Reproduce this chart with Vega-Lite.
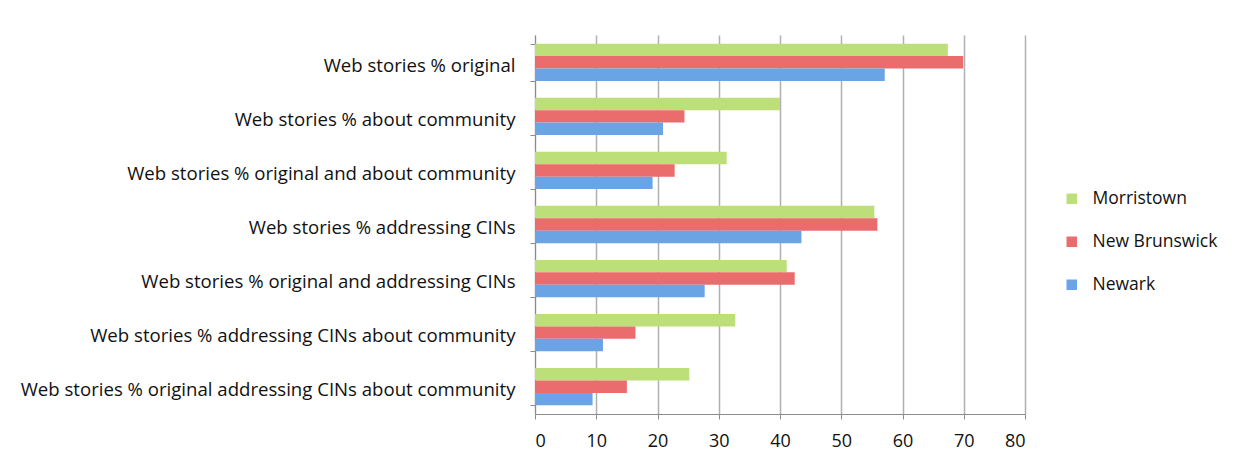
{
  "$schema": "https://vega.github.io/schema/vega-lite/v6.json",
  "width": 490,
  "height": 379,
  "autosize": {"type": "none"},
  "padding": {"left": 535, "top": 35, "right": 228, "bottom": 52},
  "background": "white",
  "data": {
    "values": [
      {"measure": "Web stories % original", "city": "Morristown", "value": 67.4},
      {"measure": "Web stories % original", "city": "New Brunswick", "value": 69.9},
      {"measure": "Web stories % original", "city": "Newark", "value": 57.1},
      {"measure": "Web stories % about community ", "city": "Morristown", "value": 40.0},
      {"measure": "Web stories % about community ", "city": "New Brunswick", "value": 24.4},
      {"measure": "Web stories % about community ", "city": "Newark", "value": 20.9},
      {"measure": "Web stories % original and about community", "city": "Morristown", "value": 31.3},
      {"measure": "Web stories % original and about community", "city": "New Brunswick", "value": 22.8},
      {"measure": "Web stories % original and about community", "city": "Newark", "value": 19.2},
      {"measure": "Web stories % addressing CINs", "city": "Morristown", "value": 55.4},
      {"measure": "Web stories % addressing CINs", "city": "New Brunswick", "value": 55.9},
      {"measure": "Web stories % addressing CINs", "city": "Newark", "value": 43.5},
      {"measure": "Web stories % original and addressing CINs", "city": "Morristown", "value": 41.1},
      {"measure": "Web stories % original and addressing CINs", "city": "New Brunswick", "value": 42.4},
      {"measure": "Web stories % original and addressing CINs", "city": "Newark", "value": 27.7},
      {"measure": "Web stories %  addressing CINs about community", "city": "Morristown", "value": 32.7},
      {"measure": "Web stories %  addressing CINs about community", "city": "New Brunswick", "value": 16.4},
      {"measure": "Web stories %  addressing CINs about community", "city": "Newark", "value": 11.1},
      {"measure": "Web stories % original addressing CINs about community", "city": "Morristown", "value": 25.2},
      {"measure": "Web stories % original addressing CINs about community", "city": "New Brunswick", "value": 15.0},
      {"measure": "Web stories % original addressing CINs about community", "city": "Newark", "value": 9.4}
    ]
  },
  "mark": {"type": "bar"},
  "encoding": {
    "y": {
      "field": "measure",
      "type": "nominal",
      "sort": null,
      "title": null,
      "scale": {"paddingInner": 0.31, "paddingOuter": 0.16},
      "axis": {
        "tickBand": "extent",
        "domainColor": "#8c8c8c",
        "tickColor": "#8c8c8c",
        "tickSize": 5,
        "labelFont": "Open Sans",
        "labelFontSize": 18.6,
        "labelColor": "#111111",
        "labelPadding": 15,
        "labelOffset": 3,
        "labelLimit": 600,
        "grid": false
      }
    },
    "yOffset": {
      "field": "city",
      "type": "nominal",
      "sort": ["Morristown", "New Brunswick", "Newark"]
    },
    "x": {
      "field": "value",
      "type": "quantitative",
      "title": null,
      "scale": {"domain": [0, 80], "nice": false},
      "axis": {
        "values": [0, 10, 20, 30, 40, 50, 60, 70, 80],
        "grid": true,
        "gridColor": "#b0b0b0",
        "gridWidth": 1.5,
        "domainColor": "#8c8c8c",
        "tickColor": "#8c8c8c",
        "tickSize": 5,
        "labelFont": "Open Sans",
        "labelFontSize": 18,
        "labelColor": "#111111",
        "labelPadding": 13
      }
    },
    "color": {
      "field": "city",
      "type": "nominal",
      "sort": ["Morristown", "New Brunswick", "Newark"],
      "scale": {
        "domain": ["Morristown", "New Brunswick", "Newark"],
        "range": ["#bddf7a", "#ea6c6c", "#6aa4e4"]
      },
      "legend": {
        "title": null,
        "orient": "none",
        "legendX": 528,
        "legendY": 155,
        "symbolType": "square",
        "symbolSize": 110,
        "labelFont": "Open Sans",
        "labelFontSize": 17.5,
        "labelColor": "#111111",
        "rowPadding": 24,
        "labelOffset": 12
      }
    }
  },
  "config": {
    "view": {"stroke": null}
  }
}
